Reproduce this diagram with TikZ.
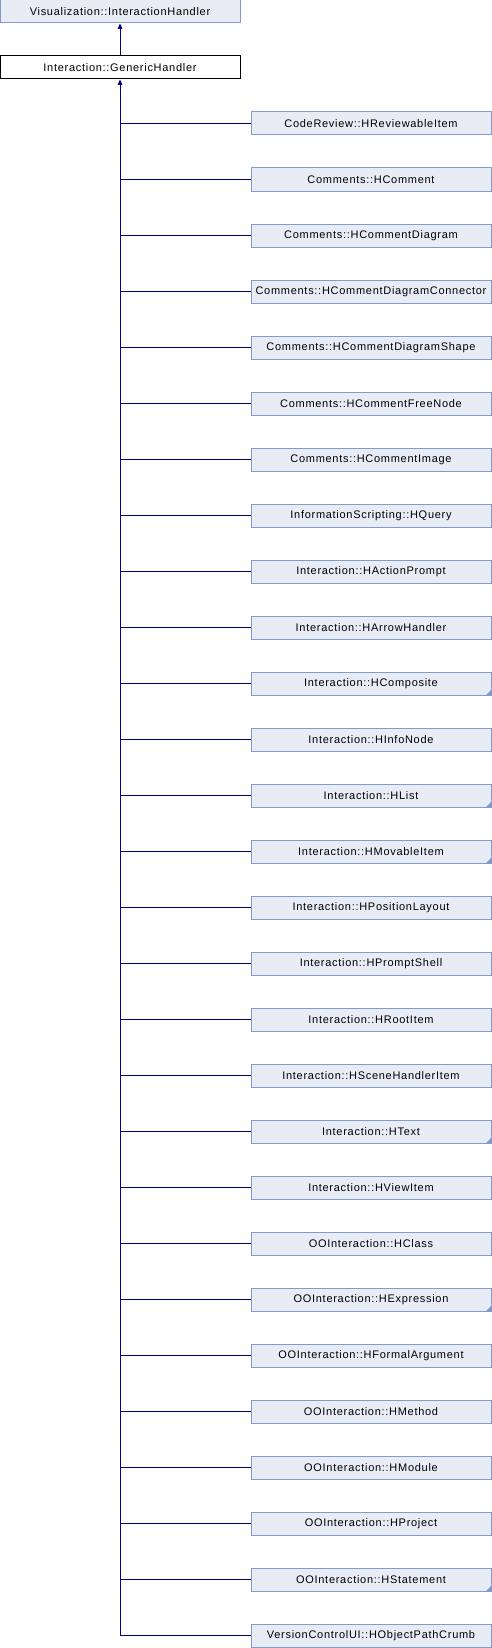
\documentclass[tikz,border=0pt]{standalone}
\usepackage{fontspec}
\setmainfont{Liberation Sans}
\newfontfamily\dxfont[LetterSpace=6.5]{Liberation Sans}
\usetikzlibrary{arrows.meta}

\definecolor{boxfill}{RGB}{232,236,245}
\definecolor{boxline}{RGB}{132,154,206}
\definecolor{linknavy}{RGB}{0,0,128}
\definecolor{markblue}{RGB}{132,154,206}

\tikzset{
  cls/.style={draw=boxline, fill=boxfill, line width=0.75pt, minimum width=180pt,
    minimum height=17.25pt, inner sep=0pt, font=\dxfont\fontsize{8.25}{9}\selectfont},
  cur/.style={cls, draw=black, fill=white},
  link/.style={draw=linknavy, line width=0.75pt},
}
% small corner mark for classes that have more children
\newcommand{\moremark}[1]{\fill[markblue] (#1.south east) -- ++(-6,0) -- ++(6,6) -- cycle;}

\begin{document}
\begin{tikzpicture}[x=0.75pt, y=0.75pt]
\useasboundingbox (0,0) rectangle (492,-1648);

\node[cls](base) at (120,-11.5) {Visualization::InteractionHandler};
\node[cur](gen) at (120,-67.5) {Interaction::GenericHandler};

\node[cls](review) at (371,-123.5) {CodeReview::HReviewableItem};
\node[cls](comment) at (371,-179.5) {Comments::HComment};
\node[cls](diagram) at (371,-235.5) {Comments::HCommentDiagram};
\node[cls](connector) at (371,-291.5) {Comments::HCommentDiagramConnector};
\node[cls](shape) at (371,-347.5) {Comments::HCommentDiagramShape};
\node[cls](freenode) at (371,-403.5) {Comments::HCommentFreeNode};
\node[cls](image) at (371,-459.5) {Comments::HCommentImage};
\node[cls](query) at (371,-515.5) {InformationScripting::HQuery};
\node[cls](prompt) at (371,-571.5) {Interaction::HActionPrompt};
\node[cls](arrow) at (371,-627.5) {Interaction::HArrowHandler};
\node[cls](composite) at (371,-683.5) {Interaction::HComposite};
\node[cls](infonode) at (371,-739.5) {Interaction::HInfoNode};
\node[cls](list) at (371,-795.5) {Interaction::HList};
\node[cls](movable) at (371,-851.5) {Interaction::HMovableItem};
\node[cls](position) at (371,-907.5) {Interaction::HPositionLayout};
\node[cls](shell) at (371,-963.5) {Interaction::HPromptShell};
\node[cls](root) at (371,-1019.5) {Interaction::HRootItem};
\node[cls](scene) at (371,-1075.5) {Interaction::HSceneHandlerItem};
\node[cls](text) at (371,-1131.5) {Interaction::HText};
\node[cls](view) at (371,-1187.5) {Interaction::HViewItem};
\node[cls](class) at (371,-1243.5) {OOInteraction::HClass};
\node[cls](expression) at (371,-1299.5) {OOInteraction::HExpression};
\node[cls](formal) at (371,-1355.5) {OOInteraction::HFormalArgument};
\node[cls](method) at (371,-1411.5) {OOInteraction::HMethod};
\node[cls](module) at (371,-1467.5) {OOInteraction::HModule};
\node[cls](project) at (371,-1523.5) {OOInteraction::HProject};
\node[cls](statement) at (371,-1579.5) {OOInteraction::HStatement};
\node[cls](crumb) at (371,-1635.5) {VersionControlUI::HObjectPathCrumb};

\moremark{composite}
\moremark{list}
\moremark{movable}
\moremark{text}
\moremark{expression}
\moremark{statement}

\draw[link, -{Triangle[width=3.5pt, length=4pt]}] (gen) -- (base);
\draw[link, -{Triangle[width=3.5pt, length=4pt]}] (crumb.west) -| (gen.south);

\draw[link] (review.west) -- (review.west -| gen.south);
\draw[link] (comment.west) -- (comment.west -| gen.south);
\draw[link] (diagram.west) -- (diagram.west -| gen.south);
\draw[link] (connector.west) -- (connector.west -| gen.south);
\draw[link] (shape.west) -- (shape.west -| gen.south);
\draw[link] (freenode.west) -- (freenode.west -| gen.south);
\draw[link] (image.west) -- (image.west -| gen.south);
\draw[link] (query.west) -- (query.west -| gen.south);
\draw[link] (prompt.west) -- (prompt.west -| gen.south);
\draw[link] (arrow.west) -- (arrow.west -| gen.south);
\draw[link] (composite.west) -- (composite.west -| gen.south);
\draw[link] (infonode.west) -- (infonode.west -| gen.south);
\draw[link] (list.west) -- (list.west -| gen.south);
\draw[link] (movable.west) -- (movable.west -| gen.south);
\draw[link] (position.west) -- (position.west -| gen.south);
\draw[link] (shell.west) -- (shell.west -| gen.south);
\draw[link] (root.west) -- (root.west -| gen.south);
\draw[link] (scene.west) -- (scene.west -| gen.south);
\draw[link] (text.west) -- (text.west -| gen.south);
\draw[link] (view.west) -- (view.west -| gen.south);
\draw[link] (class.west) -- (class.west -| gen.south);
\draw[link] (expression.west) -- (expression.west -| gen.south);
\draw[link] (formal.west) -- (formal.west -| gen.south);
\draw[link] (method.west) -- (method.west -| gen.south);
\draw[link] (module.west) -- (module.west -| gen.south);
\draw[link] (project.west) -- (project.west -| gen.south);
\draw[link] (statement.west) -- (statement.west -| gen.south);
\end{tikzpicture}
\end{document}
